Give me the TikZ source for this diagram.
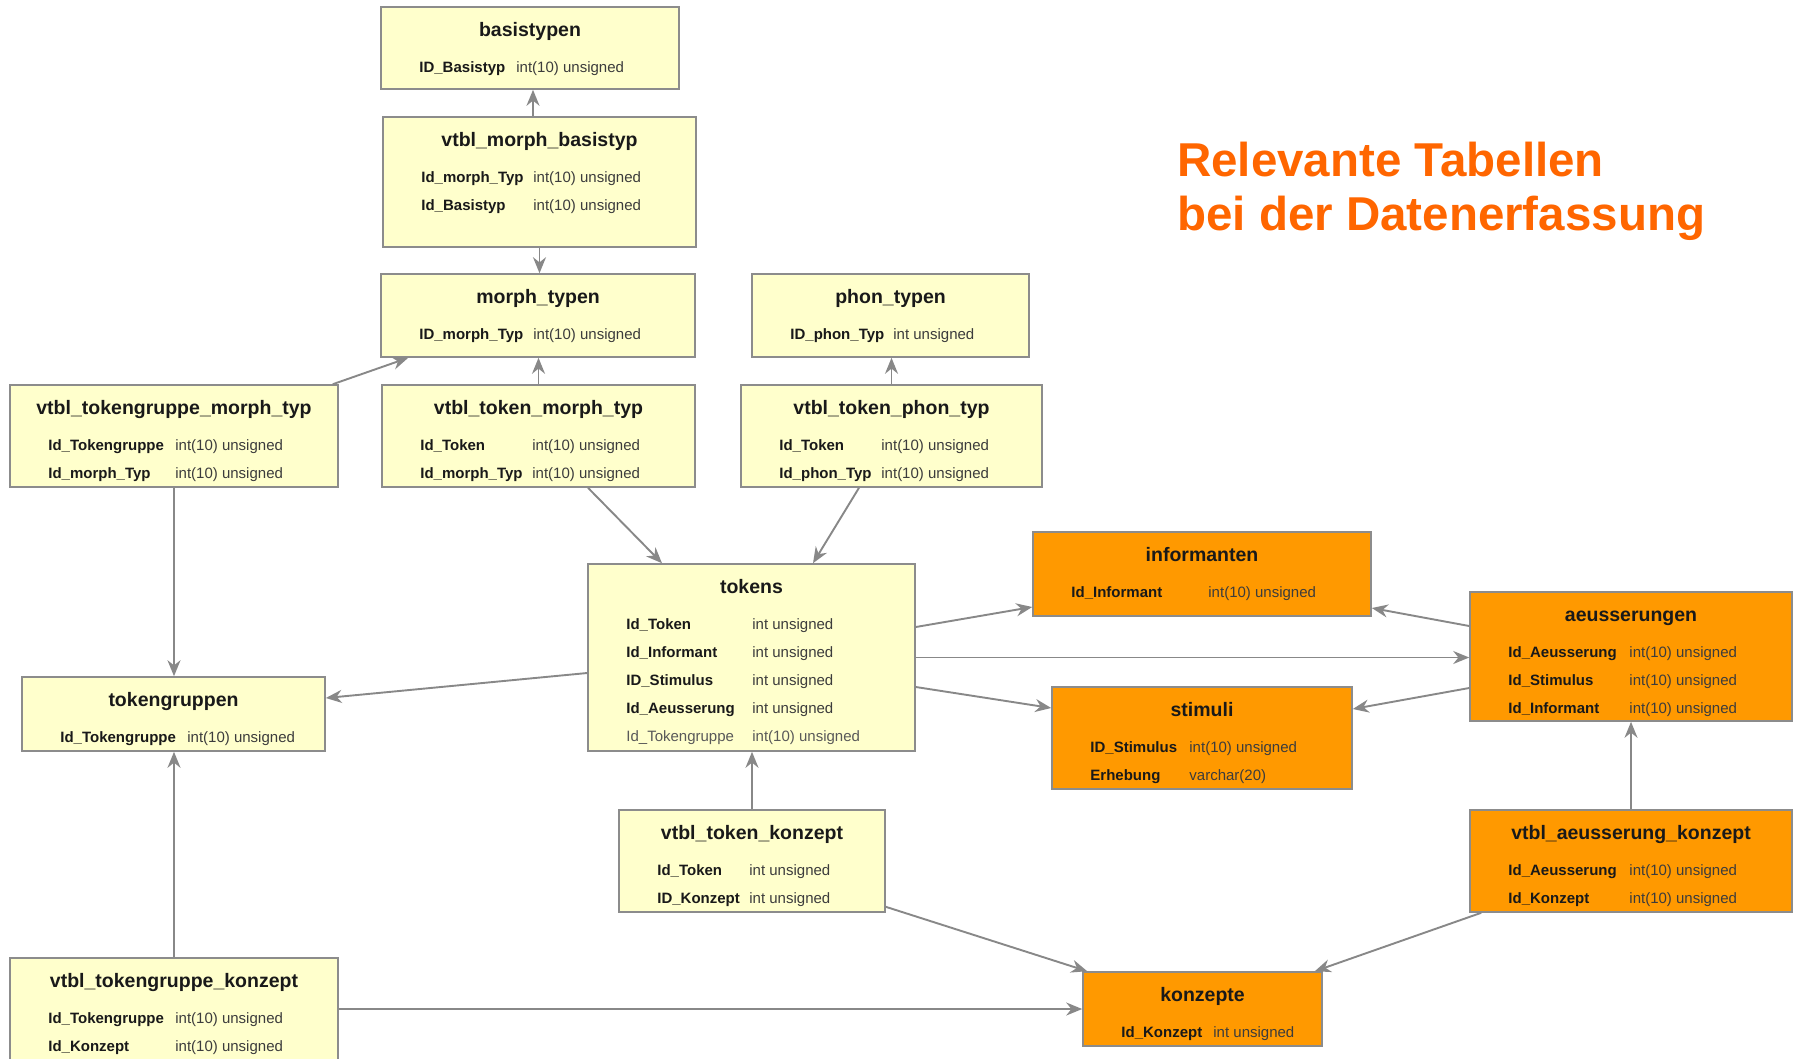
\documentclass[tikz,border=0pt]{standalone}
\usepackage{fontspec}
\setmainfont{Liberation Sans}
\usepackage{array}
\usetikzlibrary{arrows.meta}
\definecolor{tblyellow}{RGB}{255,255,204}
\definecolor{tblorange}{RGB}{255,153,0}
\definecolor{tblborder}{RGB}{140,140,140}
\definecolor{linkgray}{RGB}{136,136,136}
\definecolor{headorange}{RGB}{255,102,0}
\definecolor{typegray}{RGB}{60,60,60}
\renewcommand{\arraystretch}{1.556}

% box, title and field rows of one table
\newcommand{\dbtable}[8]{%
  \node[#1, minimum width=#4, minimum height=#5] (#2) at #3 {};
  \node[thead, anchor=base] (#2-head) at ([yshift=-30pt]#2.north) {#6};
  \node[trows, anchor=base west] (#2-rows) at ([xshift=39pt, yshift=-66pt]#2.north west)
    {\begin{tabular}[t]{@{}>{\bfseries}p{#7}@{}>{\color{typegray}}l@{}}#8\end{tabular}};
}

\begin{document}
\begin{tikzpicture}[
  x=1pt, y=-1pt,
  every node/.style={inner sep=0pt},
  yellowtbl/.style={rectangle, draw=tblborder, line width=1.6pt, fill=tblyellow},
  orangetbl/.style={yellowtbl, fill=tblorange},
  thead/.style={font=\fontsize{19.5}{22}\selectfont\bfseries, text=black!90},
  trows/.style={font=\fontsize{15}{18}\selectfont, text=black!90},
  fk/.style={-{Stealth[length=16pt, width=13pt]}, line width=1.9pt, draw=linkgray},
]
  \fill[white] (0,0) rectangle (1795,1058);
  \useasboundingbox (0,0) rectangle (1795,1058);

  % Title
  \node[font=\fontsize{47.5}{54}\selectfont\bfseries, text=headorange, align=left,
        anchor=base west] (title) at (1177,230)
    {Relevante Tabellen\\bei der Datenerfassung};

  % Morph / phon tables
  \dbtable{yellowtbl}{basistypen}{(530,48)}{298pt}{82pt}{basistypen}{97pt}
    {ID\_Basistyp & int(10) unsigned}
  \dbtable{yellowtbl}{vmorphbasis}{(539.5,182)}{313pt}{130pt}{vtbl\_morph\_basistyp}{112pt}
    {Id\_morph\_Typ & int(10) unsigned\\ Id\_Basistyp & int(10) unsigned}
  \dbtable{yellowtbl}{morphtypen}{(538,315.5)}{314pt}{83pt}{morph\_typen}{114pt}
    {ID\_morph\_Typ & int(10) unsigned}
  \dbtable{yellowtbl}{phontypen}{(890.5,315.5)}{277pt}{83pt}{phon\_typen}{103pt}
    {ID\_phon\_Typ & int unsigned}
  \dbtable{yellowtbl}{vtgmorph}{(174,436)}{328pt}{102pt}{vtbl\_tokengruppe\_morph\_typ}{127pt}
    {Id\_Tokengruppe & int(10) unsigned\\ Id\_morph\_Typ & int(10) unsigned}
  \dbtable{yellowtbl}{vtmorph}{(538.5,436)}{313pt}{102pt}{vtbl\_token\_morph\_typ}{112pt}
    {Id\_Token & int(10) unsigned\\ Id\_morph\_Typ & int(10) unsigned}
  \dbtable{yellowtbl}{vtphon}{(891.5,436)}{301pt}{102pt}{vtbl\_token\_phon\_typ}{102pt}
    {Id\_Token & int(10) unsigned\\ Id\_phon\_Typ & int(10) unsigned}

  % Tokens and groups
  \dbtable{yellowtbl}{tokens}{(751.5,657.5)}{327pt}{187pt}{tokens}{126pt}
    {Id\_Token & int unsigned\\ Id\_Informant & int unsigned\\
     ID\_Stimulus & int unsigned\\ Id\_Aeusserung & int unsigned\\
     \leavevmode\mdseries\textcolor{black!65}{Id\_Tokengruppe} & \textcolor{black!65}{int(10) unsigned}}
  \dbtable{yellowtbl}{tokengruppen}{(173.5,714)}{303pt}{74pt}{tokengruppen}{127pt}
    {Id\_Tokengruppe & int(10) unsigned}
  \dbtable{yellowtbl}{vtkonzept}{(752,861)}{266pt}{102pt}{vtbl\_token\_konzept}{92pt}
    {Id\_Token & int unsigned\\ ID\_Konzept & int unsigned}
  \dbtable{yellowtbl}{vtgkonzept}{(174,1010)}{328pt}{104pt}{vtbl\_tokengruppe\_konzept}{127pt}
    {Id\_Tokengruppe & int(10) unsigned\\ Id\_Konzept & int(10) unsigned}

  % Recording tables
  \dbtable{orangetbl}{informanten}{(1202,574)}{338pt}{84pt}{informanten}{137pt}
    {Id\_Informant & int(10) unsigned}
  \dbtable{orangetbl}{aeusserungen}{(1631,656.5)}{322pt}{129pt}{aeusserungen}{121pt}
    {Id\_Aeusserung & int(10) unsigned\\ Id\_Stimulus & int(10) unsigned\\
     Id\_Informant & int(10) unsigned}
  \dbtable{orangetbl}{stimuli}{(1202,738)}{300pt}{102pt}{stimuli}{99pt}
    {ID\_Stimulus & int(10) unsigned\\ Erhebung & varchar(20)}
  \dbtable{orangetbl}{vakonzept}{(1631,861)}{322pt}{102pt}{vtbl\_aeusserung\_konzept}{121pt}
    {Id\_Aeusserung & int(10) unsigned\\ Id\_Konzept & int(10) unsigned}
  \dbtable{orangetbl}{konzepte}{(1202.5,1009)}{239pt}{74pt}{konzepte}{92pt}
    {Id\_Konzept & int unsigned}

  % Foreign keys
  \draw[fk] ([xshift=-6.5pt]vmorphbasis.north) -- ([xshift=3pt]basistypen.south);
  \draw[fk] (vmorphbasis.south) -- (vmorphbasis.south |- morphtypen.north);
  \draw[fk] ([xshift=-6pt]vtgmorph.north east) -- ([xshift=28pt]morphtypen.south west);
  \draw[fk] (vtmorph.north) -- (vtmorph.north |- morphtypen.south);
  \draw[fk] (vtphon.north) -- (vtphon.north |- phontypen.south);
  \draw[fk] ([xshift=49.5pt]vtmorph.south) -- ([xshift=-89.5pt]tokens.north);
  \draw[fk] ([xshift=-32.5pt]vtphon.south) -- ([xshift=61.5pt]tokens.north);
  \draw[fk] (vtgmorph.south) -- (vtgmorph.south |- tokengruppen.north);
  \draw[fk] ([yshift=-15.5pt]tokens.west) -- ([yshift=16pt]tokengruppen.east);
  \draw[fk] ([yshift=30.5pt]tokens.east) -- ([yshift=-33pt]informanten.west);
  \draw[fk] (tokens.east) -- (tokens.east -| aeusserungen.west);
  \draw[fk] ([yshift=-29.5pt]tokens.east) -- ([yshift=30pt]stimuli.west);
  \draw[fk] ([yshift=30.5pt]aeusserungen.west) -- ([yshift=-34pt]informanten.east);
  \draw[fk] ([yshift=-31.5pt]aeusserungen.west) -- ([yshift=29pt]stimuli.east);
  \draw[fk] (vtkonzept.north) -- (vtkonzept.north |- tokens.south);
  \draw[fk] (vakonzept.north) -- (vakonzept.north |- aeusserungen.south);
  \draw[fk] ([yshift=6pt]vtkonzept.south east) -- ([xshift=5pt]konzepte.north west);
  \draw[fk] ([xshift=12pt]vakonzept.south west) -- ([xshift=-8pt]konzepte.north east);
  \draw[fk] (vtgkonzept.east |- konzepte.west) -- (konzepte.west);
  \draw[fk] (vtgkonzept.north) -- (vtgkonzept.north |- tokengruppen.south);
\end{tikzpicture}
\end{document}
